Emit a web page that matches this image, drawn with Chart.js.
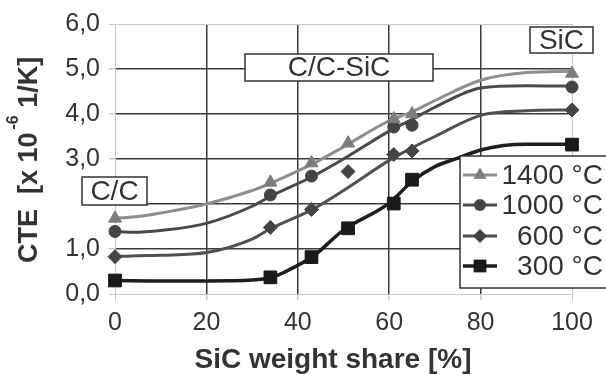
<!DOCTYPE html>
<html>
<head>
<meta charset="utf-8">
<script src="https://cdn.jsdelivr.net/npm/chart.js@4/dist/chart.umd.min.js"></script>
<style>
  html, body { margin: 0; padding: 0; background: #fff; }
</style>
</head>
<body>
<canvas id="cteChart" width="606" height="375"></canvas>
<script>
// ---- data ----
const xTicks = [0, 20, 40, 60, 80, 100];
const yTicks = [0, 1, 2, 3, 4, 5, 6];
const seriesNames = ['1400 °C', '1000 °C', '600 °C', '300 °C'];

// measured points (markers)
const pts1400X = [0, 34, 43, 51, 61, 65, 100];
const pts1400Y = [1.68, 2.48, 2.91, 3.35, 3.89, 4.0, 4.9];
const pts1000X = [0, 34, 43, 61, 65, 100];
const pts1000Y = [1.39, 2.2, 2.62, 3.71, 3.75, 4.6];
const pts600X = [0, 34, 43, 51, 61, 65, 100];
const pts600Y = [0.83, 1.48, 1.88, 2.72, 3.1, 3.18, 4.09];
const pts300X = [0, 34, 43, 51, 61, 65, 100];
const pts300Y = [0.3, 0.37, 0.82, 1.46, 2.01, 2.54, 3.32];

// trend curves
const fit1400X = [0, 5, 10, 20, 30, 34, 43, 50, 60, 65, 70, 80, 90, 100];
const fit1400Y = [1.68, 1.72, 1.8, 2.0, 2.3, 2.46, 2.88, 3.27, 3.85, 4.05, 4.3, 4.75, 4.92, 4.95];
const fit1000X = [0, 4, 10, 20, 30, 34, 43, 50, 60, 65, 70, 80, 90, 100];
const fit1000Y = [1.39, 1.37, 1.41, 1.57, 1.95, 2.17, 2.6, 3.0, 3.62, 3.88, 4.15, 4.58, 4.63, 4.62];
const fit600X = [0, 5, 10, 20, 30, 34, 43, 50, 60, 65, 70, 80, 90, 100];
const fit600Y = [0.83, 0.85, 0.86, 0.92, 1.22, 1.45, 1.87, 2.3, 2.97, 3.25, 3.5, 3.97, 4.07, 4.09];
const fit300X = [0, 10, 20, 30, 34, 37, 40, 43, 50, 60, 65, 70, 75, 80, 85, 90, 100];
const fit300Y = [0.3, 0.29, 0.29, 0.31, 0.36, 0.48, 0.64, 0.81, 1.42, 2.02, 2.5, 2.83, 3.02, 3.2, 3.3, 3.33, 3.33];

const FONT = '"Liberation Sans", Arial, sans-serif';
const TEXT = '#333';

const styles = [
    { line: '#8e8e8e', mark: '#7d7d7d', shape: 'triangle', r: 7.5 },
    { line: '#4a4a4a', mark: '#444', shape: 'circle', r: 6 },
    { line: '#505050', mark: '#444', shape: 'rectRot', r: 7 },
    { line: '#1e1e1e', mark: '#1a1a1a', shape: 'rect', r: 9 }
];

const zip = (xs, ys) => xs.map((x, i) => ({ x: x, y: ys[i] }));
const ptsList = [zip(pts1400X, pts1400Y), zip(pts1000X, pts1000Y), zip(pts600X, pts600Y), zip(pts300X, pts300Y)];
const fitList = [zip(fit1400X, fit1400Y), zip(fit1000X, fit1000Y), zip(fit600X, fit600Y), zip(fit300X, fit300Y)];

const datasets = [];
// markers on top
ptsList.forEach((d, i) => {
    datasets.push({
        label: seriesNames[i],
        data: d,
        showLine: false,
        pointStyle: styles[i].shape,
        pointRadius: styles[i].r,
        pointBackgroundColor: styles[i].mark,
        pointBorderColor: styles[i].mark,
        pointBorderWidth: 1,
        clip: false,
        order: 0
    });
});
fitList.forEach((d, i) => {
    datasets.push({
        label: seriesNames[i] + ' fit',
        data: d,
        showLine: true,
        borderColor: styles[i].line,
        borderWidth: i === 3 ? 3.5 : 3,
        pointRadius: 0,
        cubicInterpolationMode: 'monotone',
        fill: false,
        order: 1
    });
});

function drawMarker(ctx, shape, x, y, r) {
    ctx.beginPath();
    if (shape === 'circle') {
        ctx.arc(x, y, r, 0, Math.PI * 2);
    } else if (shape === 'triangle') {
        ctx.moveTo(x, y - r);
        ctx.lineTo(x + 0.866 * r, y + 0.5 * r);
        ctx.lineTo(x - 0.866 * r, y + 0.5 * r);
        ctx.closePath();
    } else if (shape === 'rectRot') {
        ctx.moveTo(x - r, y);
        ctx.lineTo(x, y - r);
        ctx.lineTo(x + r, y);
        ctx.lineTo(x, y + r);
        ctx.closePath();
    } else {
        const s = Math.SQRT1_2 * r;
        ctx.rect(x - s, y - s, 2 * s, 2 * s);
    }
    ctx.fill();
}

function labelBox(ctx, x, y, w, h, text) {
    ctx.fillStyle = '#fff';
    ctx.fillRect(x, y, w, h);
    ctx.strokeStyle = '#333';
    ctx.lineWidth = 1.5;
    ctx.strokeRect(x, y, w, h);
    ctx.fillStyle = TEXT;
    ctx.font = '28px ' + FONT;
    ctx.textAlign = 'center';
    ctx.textBaseline = 'middle';
    ctx.fillText(text, x + w / 2, y + h / 2 + 1);
}

// Подписи, рамки и легенда поверх графика
const overlay = {
    id: 'overlay',
    afterDraw(chart) {
        const ctx = chart.ctx;
        ctx.save();

        labelBox(ctx, 82, 177, 65, 28, 'C/C');
        labelBox(ctx, 245, 54, 188, 27, 'C/C-SiC');
        labelBox(ctx, 530, 27, 63, 26, 'SiC');

        // legend
        ctx.fillStyle = '#fff';
        ctx.fillRect(460, 156, 150, 132);
        ctx.strokeStyle = '#333';
        ctx.lineWidth = 1.5;
        ctx.strokeRect(460, 156, 150, 132);
        const rows = [175, 205, 236, 266];
        rows.forEach((ry, i) => {
            const st = styles[i];
            ctx.strokeStyle = st.line;
            ctx.lineWidth = i === 3 ? 3.5 : 3;
            ctx.beginPath();
            ctx.moveTo(463, ry);
            ctx.lineTo(497, ry);
            ctx.stroke();
            ctx.fillStyle = st.mark;
            drawMarker(ctx, st.shape, 480, ry, st.r);
            ctx.fillStyle = TEXT;
            ctx.font = '28px ' + FONT;
            ctx.textAlign = 'right';
            ctx.textBaseline = 'middle';
            ctx.fillText(seriesNames[i], 603, ry + 1);
        });

        // x title
        ctx.fillStyle = TEXT;
        ctx.font = 'bold 28px ' + FONT;
        ctx.textAlign = 'center';
        ctx.textBaseline = 'alphabetic';
        ctx.fillText('SiC weight share [%]', 333, 368);

        // y title with superscript
        ctx.translate(37, 263);
        ctx.rotate(-Math.PI / 2);
        ctx.textAlign = 'left';
        ctx.font = 'bold 27px ' + FONT;
        const s1 = 'CTE  [x 10';
        ctx.fillText(s1, 0, 0);
        let w = ctx.measureText(s1).width + 3;
        ctx.font = 'bold 16px ' + FONT;
        ctx.fillText('-6', w, -19);
        w += ctx.measureText('-6').width;
        ctx.font = 'bold 27px ' + FONT;
        ctx.fillText(' 1/K]', w, 0);

        ctx.restore();
    }
};

const edge = (c, lo, hi) => c.tick && (c.tick.value === lo || c.tick.value === hi);

new Chart(document.getElementById('cteChart'), {
    type: 'scatter',
    data: { datasets: datasets },
    options: {
        responsive: false,
        animation: false,
        devicePixelRatio: 1,
        layout: { padding: { left: 0, right: 34, top: 18, bottom: 0 } },
        plugins: {
            legend: { display: false },
            tooltip: { enabled: false }
        },
        scales: {
            x: {
                type: 'linear',
                min: 0,
                max: 100,
                afterFit: s => { s.height = 81; },
                afterBuildTicks: s => { s.ticks = xTicks.map(v => ({ value: v })); },
                ticks: {
                    font: { size: 25, family: FONT },
                    color: TEXT,
                    padding: 8,
                    maxRotation: 0
                },
                grid: {
                    color: c => edge(c, 0, 100) ? '#c8c8c8' : '#3a3a3a',
                    lineWidth: c => edge(c, 0, 100) ? 1 : 1.5,
                    tickColor: '#c8c8c8',
                    tickLength: 6
                },
                border: { color: '#c8c8c8', width: 1 }
            },
            y: {
                min: 0,
                max: 6,
                afterFit: s => { s.width = 115; },
                afterBuildTicks: s => { s.ticks = yTicks.map(v => ({ value: v })); },
                ticks: {
                    font: { size: 25, family: FONT },
                    color: TEXT,
                    padding: 9,
                    callback: v => v === 2 ? '' : v.toFixed(1).replace('.', ',')
                },
                grid: {
                    color: c => edge(c, 0, 6) ? '#c8c8c8' : '#3a3a3a',
                    lineWidth: c => edge(c, 0, 6) ? 1 : 1.5,
                    tickColor: '#c8c8c8',
                    tickLength: 6
                },
                border: { color: '#c8c8c8', width: 1 }
            }
        }
    },
    plugins: [overlay]
});
</script>
</body>
</html>
